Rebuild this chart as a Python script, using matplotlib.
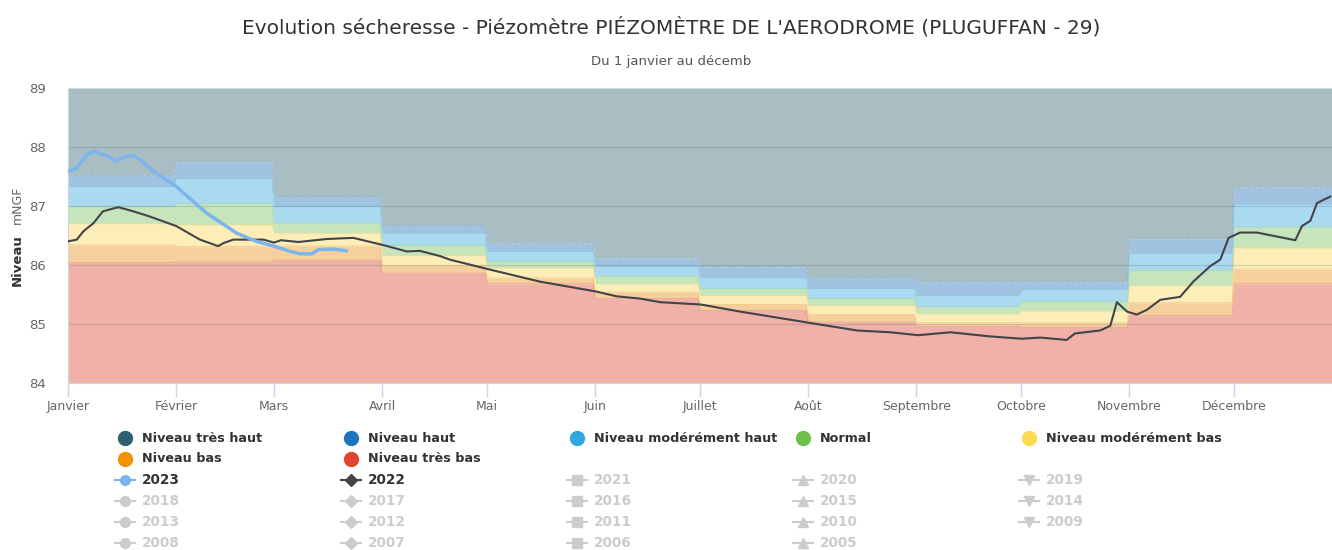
import numpy as np
import matplotlib
matplotlib.use('Agg')
import matplotlib.pyplot as plt
from matplotlib.lines import Line2D

plt.rcParams['font.family'] = ['DejaVu Sans']

W, H = 1332, 550

# month starts (day of year) and labels
month_start = [0, 31, 59, 90, 120, 151, 181, 212, 243, 273, 304, 334, 365]
month_labels = ['Janvier', 'Février', 'Mars', 'Avril', 'Mai', 'Juin', 'Juillet',
                'Août', 'Septembre', 'Octobre', 'Novembre', 'Décembre']

# upper limit of each band, per month (mNGF)
top_tres_bas = [86.04, 86.05, 86.08, 85.86, 85.68, 85.43, 85.23, 85.03, 84.96, 84.94, 85.14, 85.68]
top_bas = [86.34, 86.31, 86.32, 85.99, 85.78, 85.54, 85.33, 85.16, 85.02, 85.02, 85.36, 85.93]
top_mod_bas = [86.70, 86.68, 86.54, 86.16, 85.95, 85.68, 85.48, 85.31, 85.17, 85.22, 85.65, 86.29]
top_normal = [86.99, 87.04, 86.71, 86.33, 86.06, 85.81, 85.60, 85.43, 85.29, 85.38, 85.91, 86.64]
top_mod_haut = [87.33, 87.46, 86.99, 86.54, 86.23, 85.97, 85.78, 85.60, 85.48, 85.58, 86.20, 87.03]
top_haut = [87.52, 87.75, 87.16, 86.67, 86.37, 86.12, 85.97, 85.79, 85.71, 85.71, 86.44, 87.32]

# 2022 series
days_2022 = [0, 2.5, 4.4, 7.3, 10, 14.4, 18.7, 23.5, 31, 37.8, 43, 44.5, 47.3, 52, 56, 59, 61, 66,
             74, 81.7, 90.8, 97, 100.8, 106.6, 109.4, 120.3, 135, 151.3, 157, 163.9, 169.6,
             181.3, 192.5, 212.3, 226, 235.5, 243.5, 252.7, 264, 273.2, 278.4, 286, 288.4,
             295.6, 298.5, 300.4, 303.3, 306.1, 309, 312.8, 318.5, 322.3, 327.1, 330, 332.4,
             335.7, 340.5, 351.5, 353.4, 355.8, 357.7, 361.5]
vals_2022 = [86.40, 86.43, 86.57, 86.71, 86.91, 86.98, 86.91, 86.82, 86.66, 86.43, 86.32, 86.37,
             86.43, 86.43, 86.43, 86.38, 86.42, 86.39, 86.44, 86.46, 86.33, 86.23, 86.24, 86.15,
             86.09, 85.93, 85.72, 85.55, 85.47, 85.43, 85.37, 85.33, 85.21, 85.02, 84.89, 84.86,
             84.81, 84.86, 84.79, 84.75, 84.77, 84.73, 84.84, 84.89, 84.97, 85.37, 85.21, 85.16,
             85.24, 85.41, 85.46, 85.72, 85.98, 86.09, 86.46, 86.55, 86.55, 86.42, 86.66, 86.75,
             87.05, 87.16]

# 2023 series
days_2023 = [0, 2.5, 5.3, 7.3, 11.1, 13.9, 16.3, 18.7, 20.6, 24.4, 31, 39.7, 48.3, 54, 59,
             63.6, 66.4, 69.8, 71.7, 76, 78.4, 79.8]
vals_2023 = [87.59, 87.64, 87.87, 87.93, 87.85, 87.76, 87.84, 87.85, 87.79, 87.59, 87.33, 86.88,
             86.54, 86.40, 86.32, 86.23, 86.19, 86.19, 86.26, 86.27, 86.25, 86.24]

band_names = ['Niveau très bas', 'Niveau bas', 'Niveau modérément bas', 'Normal',
              'Niveau modérément haut', 'Niveau haut', 'Niveau très haut']
band_fill = ['#f0b1a8', '#f5cf9c', '#fdeeb8', '#c6e5bd', '#a9daef', '#9fc3e1', '#a9bec3']
band_edge = ['#e59488', '#eeb978', '#f8dc8a', '#a8d69c', '#88c9e6', '#86b0d6', '#94aab0']
band_dot = ['#e2432e', '#f39200', '#ffdb4e', '#6cc24a', '#2fa8df', '#1e73be', '#2c6270']

fig = plt.figure(figsize=(W / 100, H / 100), dpi=100)
ax = fig.add_axes([68 / W, 1 - 383 / H, (W - 68) / W, 295 / H])

# step profile per month
xs = []
for i in range(12):
    xs += [month_start[i], month_start[i + 1] - 0.6]
xs = np.array(xs)


def steps(v):
    return np.repeat(v, 2)


tops = [top_tres_bas, top_bas, top_mod_bas, top_normal, top_mod_haut, top_haut]
lower = np.full(len(xs), 84.0)
for k in range(7):
    upper = steps(tops[k]) if k < 6 else np.full(len(xs), 89.0)
    ax.fill_between(xs, lower, upper, color=band_fill[k], lw=0, zorder=1)
    if k < 6:
        ax.plot(xs, upper, color=band_edge[k], lw=0.8, alpha=0.6, zorder=2,
                ls=(0, (3, 2)) if k == 5 else '-')
    lower = upper

for yv in [85, 86, 87, 88]:
    ax.axhline(yv, color='#3a5560', lw=0.9, alpha=0.18, zorder=2)

ax.plot(days_2022, vals_2022, color='#434348', lw=1.5, zorder=4)
ax.plot(days_2023, vals_2023, color='#7cb5ec', lw=2.5, zorder=5, solid_capstyle='round')

ax.set_xlim(0, 362)
ax.set_ylim(84, 89)
ax.set_xticks(month_start[:12])
ax.set_xticklabels(month_labels, color='#666666', fontsize=9)
ax.set_yticks([84, 85, 86, 87, 88, 89])
ax.set_yticklabels(['84', '85', '86', '87', '88', '89'], color='#666666', fontsize=9.5)
ax.tick_params(axis='x', length=10, width=1, color='#ccd6eb', pad=2)
ax.tick_params(axis='y', length=0, pad=16)
for s in ['top', 'right']:
    ax.spines[s].set_visible(False)
ax.spines['left'].set_color('#ccd6eb')
ax.spines['bottom'].set_color('#ccd6eb')


def fx(x):
    return x / W


def fy(y):
    return 1 - y / H


fig.text(fx(671), fy(27), "Evolution sécheresse - Piézomètre PIÉZOMÈTRE DE L'AERODROME (PLUGUFFAN - 29)",
         ha='center', va='center', fontsize=14.5, color='#333333')
fig.text(fx(671), fy(61), 'Du 1 janvier au décemb', ha='center', va='center',
         fontsize=9.5, color='#555555')
fig.text(fx(17), fy(260), 'Niveau', rotation=90, ha='center', va='center',
         fontsize=9.5, fontweight='bold', color='#333333')
fig.text(fx(17), fy(205), 'mNGF', rotation=90, ha='center', va='center',
         fontsize=9, color='#666666')

# legend
col_text = [142, 368, 594, 820, 1046]
row_y = [438, 459, 480, 501, 522, 543]
band_order = [6, 5, 4, 3, 2, 1, 0]
for i, k in enumerate(band_order):
    r, c = divmod(i, 5)
    fig.add_artist(Line2D([fx(col_text[c] - 17)], [fy(row_y[r])], marker='o', ms=10,
                          color=band_dot[k], mec=band_dot[k], transform=fig.transFigure))
    fig.text(fx(col_text[c]), fy(row_y[r]), band_names[k], ha='left', va='center',
             fontsize=9.2, fontweight='bold', color='#333333')

years = list(range(2023, 2004, -1))
year_markers = ['o', 'D', 's', '^', 'v']
for i, yr in enumerate(years):
    r, c = divmod(i, 5)
    r += 2
    if yr == 2023:
        col, tcol = '#7cb5ec', '#333333'
    elif yr == 2022:
        col, tcol = '#434348', '#333333'
    else:
        col, tcol = '#cccccc', '#cccccc'
    xc = col_text[c] - 17
    fig.add_artist(Line2D([fx(xc - 10), fx(xc + 10)], [fy(row_y[r]), fy(row_y[r])], lw=1.5,
                          color=col, transform=fig.transFigure))
    ms = 6 if year_markers[c] == 'D' else 7
    fig.add_artist(Line2D([fx(xc)], [fy(row_y[r])], marker=year_markers[c], ms=ms,
                          color=col, mec=col, transform=fig.transFigure))
    fig.text(fx(col_text[c]), fy(row_y[r]), str(yr), ha='left', va='center',
             fontsize=9.8, fontweight='bold', color=tcol)

fig.savefig('out.png', dpi=100)
